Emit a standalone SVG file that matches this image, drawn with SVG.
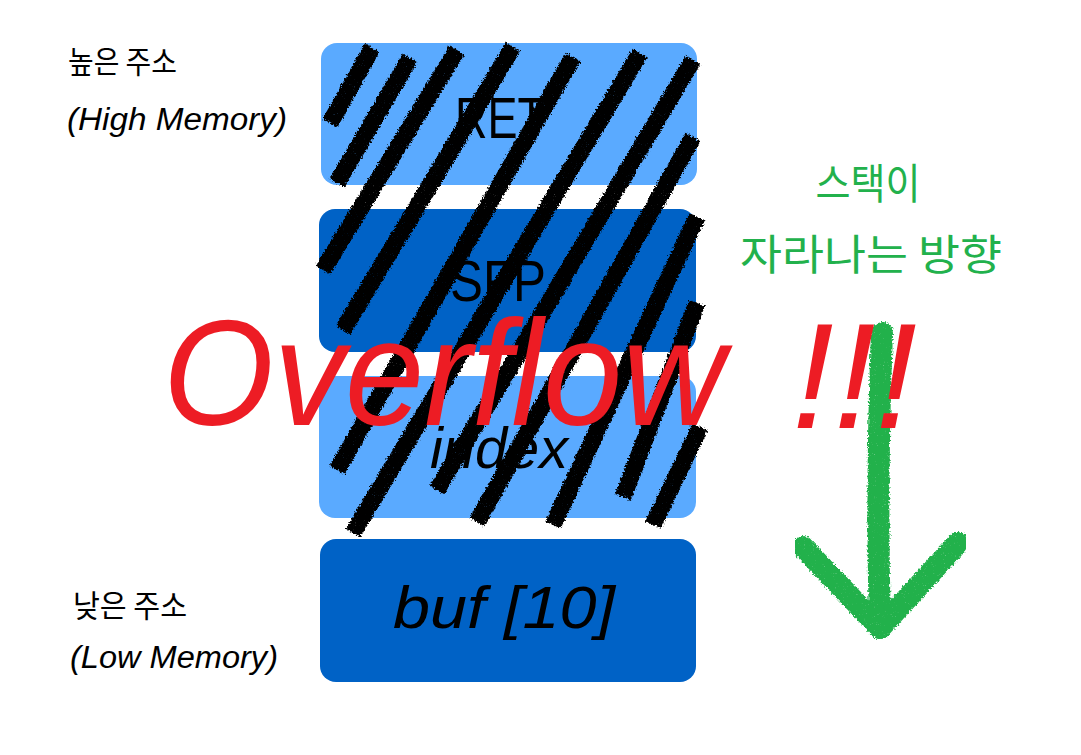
<svg xmlns="http://www.w3.org/2000/svg" width="1081" height="755" viewBox="0 0 1081 755">
<defs>
<style>
.light{fill:#5AAAFF}
.dark{fill:#0062C6}
.lbl{font-family:"Liberation Sans",Arial,sans-serif;fill:#000;text-anchor:middle}
.side{font-family:"Liberation Sans","Noto Sans CJK KR",sans-serif;fill:#000;font-size:31px}
.kr{font-family:"Noto Sans CJK KR","Liberation Sans",sans-serif;font-weight:400}
.green{fill:#22B14C}
.hatch{stroke:#000;stroke-width:17;stroke-linecap:butt;fill:none}
.big{font-family:"Liberation Sans",Arial,sans-serif;font-style:italic;fill:#ED1C24;font-size:150px}
.arrow{stroke:#22B14C;stroke-width:22;stroke-linecap:round;stroke-linejoin:round;fill:none}
</style>
<filter id="chalk" x="-5%" y="-5%" width="110%" height="110%">
<feTurbulence type="fractalNoise" baseFrequency="0.55" numOctaves="2" seed="3" result="n"/>
<feDisplacementMap in="SourceGraphic" in2="n" scale="5" xChannelSelector="R" yChannelSelector="G" result="d"/>
<feTurbulence type="fractalNoise" baseFrequency="0.9" numOctaves="1" seed="7" result="n2"/>
<feColorMatrix in="n2" type="matrix" values="0 0 0 0 0  0 0 0 0 0  0 0 0 0 0  0 0 0 -2.2 2.5" result="m"/>
<feComposite in="d" in2="m" operator="in"/>
</filter>
</defs>
<rect width="1081" height="755" fill="#fff"/>

<g id="node-ret">
<rect class="light" x="321" y="43" width="376" height="142" rx="16"/>
<text class="lbl" x="500" y="138" font-size="58" textLength="90" lengthAdjust="spacingAndGlyphs">RET</text>
</g>
<g id="node-sfp">
<rect class="dark" x="319" y="209" width="377" height="143" rx="16"/>
<text class="lbl" x="498" y="301" font-size="58" textLength="96" lengthAdjust="spacingAndGlyphs">SFP</text>
</g>
<g id="node-index">
<rect class="light" x="319" y="376" width="377" height="142" rx="16"/>
<text class="lbl" x="499" y="468" font-size="58" textLength="138" lengthAdjust="spacingAndGlyphs" font-style="italic">index</text>
</g>
<g id="node-buf">
<rect class="dark" x="320" y="539" width="376" height="143" rx="16"/>
<text class="lbl" x="504" y="628" font-size="60" textLength="222" lengthAdjust="spacingAndGlyphs" font-style="italic">buf [10]</text>
</g>

<g id="label-high">
<text class="side kr" x="68" y="73" font-size="36" textLength="109" lengthAdjust="spacingAndGlyphs">높은 주소</text>
<text class="side" x="67" y="130" font-style="italic" textLength="220" lengthAdjust="spacingAndGlyphs">(High Memory)</text>
</g>
<g id="label-low">
<text class="side kr" x="73" y="617" font-size="36" textLength="114" lengthAdjust="spacingAndGlyphs">낮은 주소</text>
<text class="side" x="70" y="668" font-style="italic" textLength="208" lengthAdjust="spacingAndGlyphs">(Low Memory)</text>
</g>

<g id="hatching" class="hatch" filter="url(#chalk)">
<line x1="372" y1="48" x2="330" y2="123"/>
<line x1="410" y1="58" x2="337" y2="183"/>
<line x1="457" y1="50" x2="323" y2="270"/>
<line x1="513" y1="47" x2="343" y2="330"/>
<line x1="573" y1="57" x2="337" y2="470"/>
<line x1="640" y1="53" x2="353" y2="533"/>
<line x1="693" y1="60" x2="437" y2="490"/>
<line x1="693" y1="137" x2="477" y2="522"/>
<line x1="697" y1="217" x2="553" y2="525"/>
<line x1="697" y1="303" x2="623" y2="497"/>
<line x1="700" y1="427" x2="653" y2="525"/>
</g>

<g id="stack-direction">
<text class="green kr" x="868" y="199" font-size="42" text-anchor="middle" textLength="105" lengthAdjust="spacingAndGlyphs">스택이</text>
<text class="green kr" x="740" y="270" font-size="42" textLength="262" lengthAdjust="spacingAndGlyphs">자라나는 방향</text>
<g class="arrow" filter="url(#chalk)">
<path d="M882 333 Q876 480 880 628"/>
<path d="M803 547 L880 628 L958 543"/>
</g>
</g>

<g id="overflow">
<text class="big" x="163" y="425" textLength="562" lengthAdjust="spacingAndGlyphs">Overflow</text>
<text class="big" x="792" y="428" textLength="125" lengthAdjust="spacingAndGlyphs">!!!</text>
</g>
</svg>
